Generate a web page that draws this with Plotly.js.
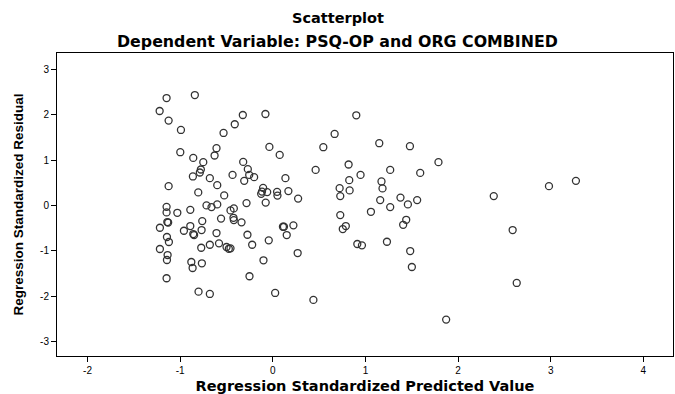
<!DOCTYPE html>
<html>
<head>
<meta charset="utf-8">
<script src="https://cdn.plot.ly/plotly-3.0.1.min.js"></script>
<style>html,body{margin:0;padding:0;background:#fff;}#chart{width:675px;height:394px;}</style>
</head>
<body>
<div id="chart"></div>
<script>
// Regression Standardized Predicted Value
var predicted = [
-1.147,-0.842,-1.222,-1.125,-0.992,-0.999,-0.859,-0.751,-0.629,-0.608,
-0.777,-0.788,-0.863,-0.680,-1.125,-0.805,-0.600,-1.147,-1.147,-1.031,
-0.891,-0.716,-0.662,-0.600,-1.139,-1.130,-1.219,-0.960,-0.891,-0.859,
-0.850,-0.769,-0.762,-0.608,-0.559,-1.143,-1.122,-1.219,-1.136,-1.143,
-0.880,-0.866,-0.766,-0.773,-0.680,-0.581,-1.147,-0.802,-0.680,-0.324,
-0.080,-0.411,-0.532,0.901,0.667,-0.037,0.074,0.545,-0.320,-0.270,
-0.255,-0.202,-0.435,-0.309,0.136,0.462,0.818,0.825,0.947,-0.105,
-0.117,-0.061,-0.126,0.046,0.050,0.168,0.273,-0.525,0.721,0.829,
0.728,-0.284,-0.077,-0.421,-0.457,-0.425,-0.421,-0.338,-0.274,0.109,
0.120,0.222,0.150,0.728,0.788,0.755,0.912,-0.500,-0.475,-0.457,
-0.223,-0.044,0.268,-0.101,-0.252,0.025,0.438,1.149,1.480,1.788,
1.267,1.591,1.173,1.184,1.159,1.378,1.558,1.458,1.267,2.385,
1.059,1.440,1.407,0.962,1.232,1.483,1.501,2.589,2.633,1.871,
2.981,3.272
];
// Regression Standardized Residual
var residual = [
2.367,2.433,2.081,1.870,1.663,1.173,1.047,0.953,1.100,1.261,
0.792,0.726,0.638,0.601,0.425,0.286,0.447,-0.031,-0.154,-0.163,
-0.097,0.000,-0.037,0.022,-0.367,-0.378,-0.493,-0.559,-0.455,-0.631,
-0.653,-0.543,-0.345,-0.609,-0.290,-0.697,-0.807,-0.961,-1.094,-1.204,
-1.248,-1.380,-1.276,-0.933,-0.867,-0.836,-1.606,-1.901,-1.952,1.993,
2.015,1.789,1.597,1.987,1.575,1.289,1.113,1.283,0.959,0.799,
0.673,0.623,0.673,0.541,0.601,0.783,0.902,0.557,0.673,0.387,
0.304,0.293,0.255,0.299,0.216,0.315,0.150,0.220,0.381,0.330,
0.205,0.051,0.062,-0.066,-0.110,-0.273,-0.323,-0.374,-0.647,-0.471,
-0.471,-0.440,-0.653,-0.213,-0.455,-0.521,-0.851,-0.917,-0.955,-0.946,
-0.867,-0.770,-1.050,-1.210,-1.562,-1.930,-2.084,1.371,1.305,0.953,
0.783,0.717,0.528,0.374,0.117,0.172,0.117,0.022,-0.037,0.205,
-0.141,-0.317,-0.427,-0.880,-0.801,-1.006,-1.358,-0.543,-1.710,-2.517,
0.425,0.541
];
var xTicks = [-2,-1,0,1,2,3,4];
var yTicks = [-3,-2,-1,0,1,2,3];

var font = "'Liberation Sans', Arial, sans-serif";
var wide = "'DejaVu Sans', 'Liberation Sans', sans-serif";
var narrow = "'Liberation Sans Narrow', 'Liberation Sans', sans-serif";

var trace = {
  x: predicted, y: residual, type: 'scatter', mode: 'markers',
  marker: {symbol: 'circle-open', size: 7, color: '#333333', line: {width: 1.3, color: '#333333'}},
  hoverinfo: 'none'
};

var layout = {
  width: 675, height: 394,
  margin: {l: 57, r: 2, t: 53, b: 38},
  paper_bgcolor: '#ffffff', plot_bgcolor: '#ffffff',
  showlegend: false,
  font: {family: font, color: '#000'},
  xaxis: {
    range: [-2.33, 4.32], tickvals: xTicks, ticktext: xTicks.map(String),
    ticks: 'outside', ticklen: 5, tickwidth: 1, tickcolor: '#000',
    showgrid: false, zeroline: false, showline: true, linecolor: '#000', linewidth: 1, mirror: true,
    tickfont: {family: font, size: 10, color: '#000'},
    title: {text: '<b>Regression Standardized Predicted Value</b>', font: {family: wide, size: 14.5, color: '#000'}, standoff: 7}
  },
  yaxis: {
    range: [-3.32, 3.36], tickvals: yTicks, ticktext: yTicks.map(String),
    ticks: 'outside', ticklen: 5, tickwidth: 1, tickcolor: '#000',
    showgrid: false, zeroline: false, showline: true, linecolor: '#000', linewidth: 1, mirror: true,
    tickfont: {family: font, size: 10, color: '#000'},
    title: {text: '<b>Regression Standardized Residual</b>', font: {family: narrow, size: 13.5, color: '#000'}, standoff: 13}
  },
  annotations: [
    {text: '<b>Scatterplot</b>', xref: 'paper', yref: 'paper', x: 0.4554, y: 1, yshift: 35, xanchor: 'center', yanchor: 'middle', showarrow: false, font: {family: wide, size: 14.5, color: '#000'}},
    {text: '<b>Dependent Variable: PSQ-OP and ORG COMBINED</b>', xref: 'paper', yref: 'paper', x: 0.4554, y: 1, yshift: 12, xanchor: 'center', yanchor: 'middle', showarrow: false, font: {family: wide, size: 15.8, color: '#000'}}
  ]
};

Plotly.newPlot('chart', [trace], layout, {displayModeBar: false, staticPlot: true});
</script>
</body>
</html>
